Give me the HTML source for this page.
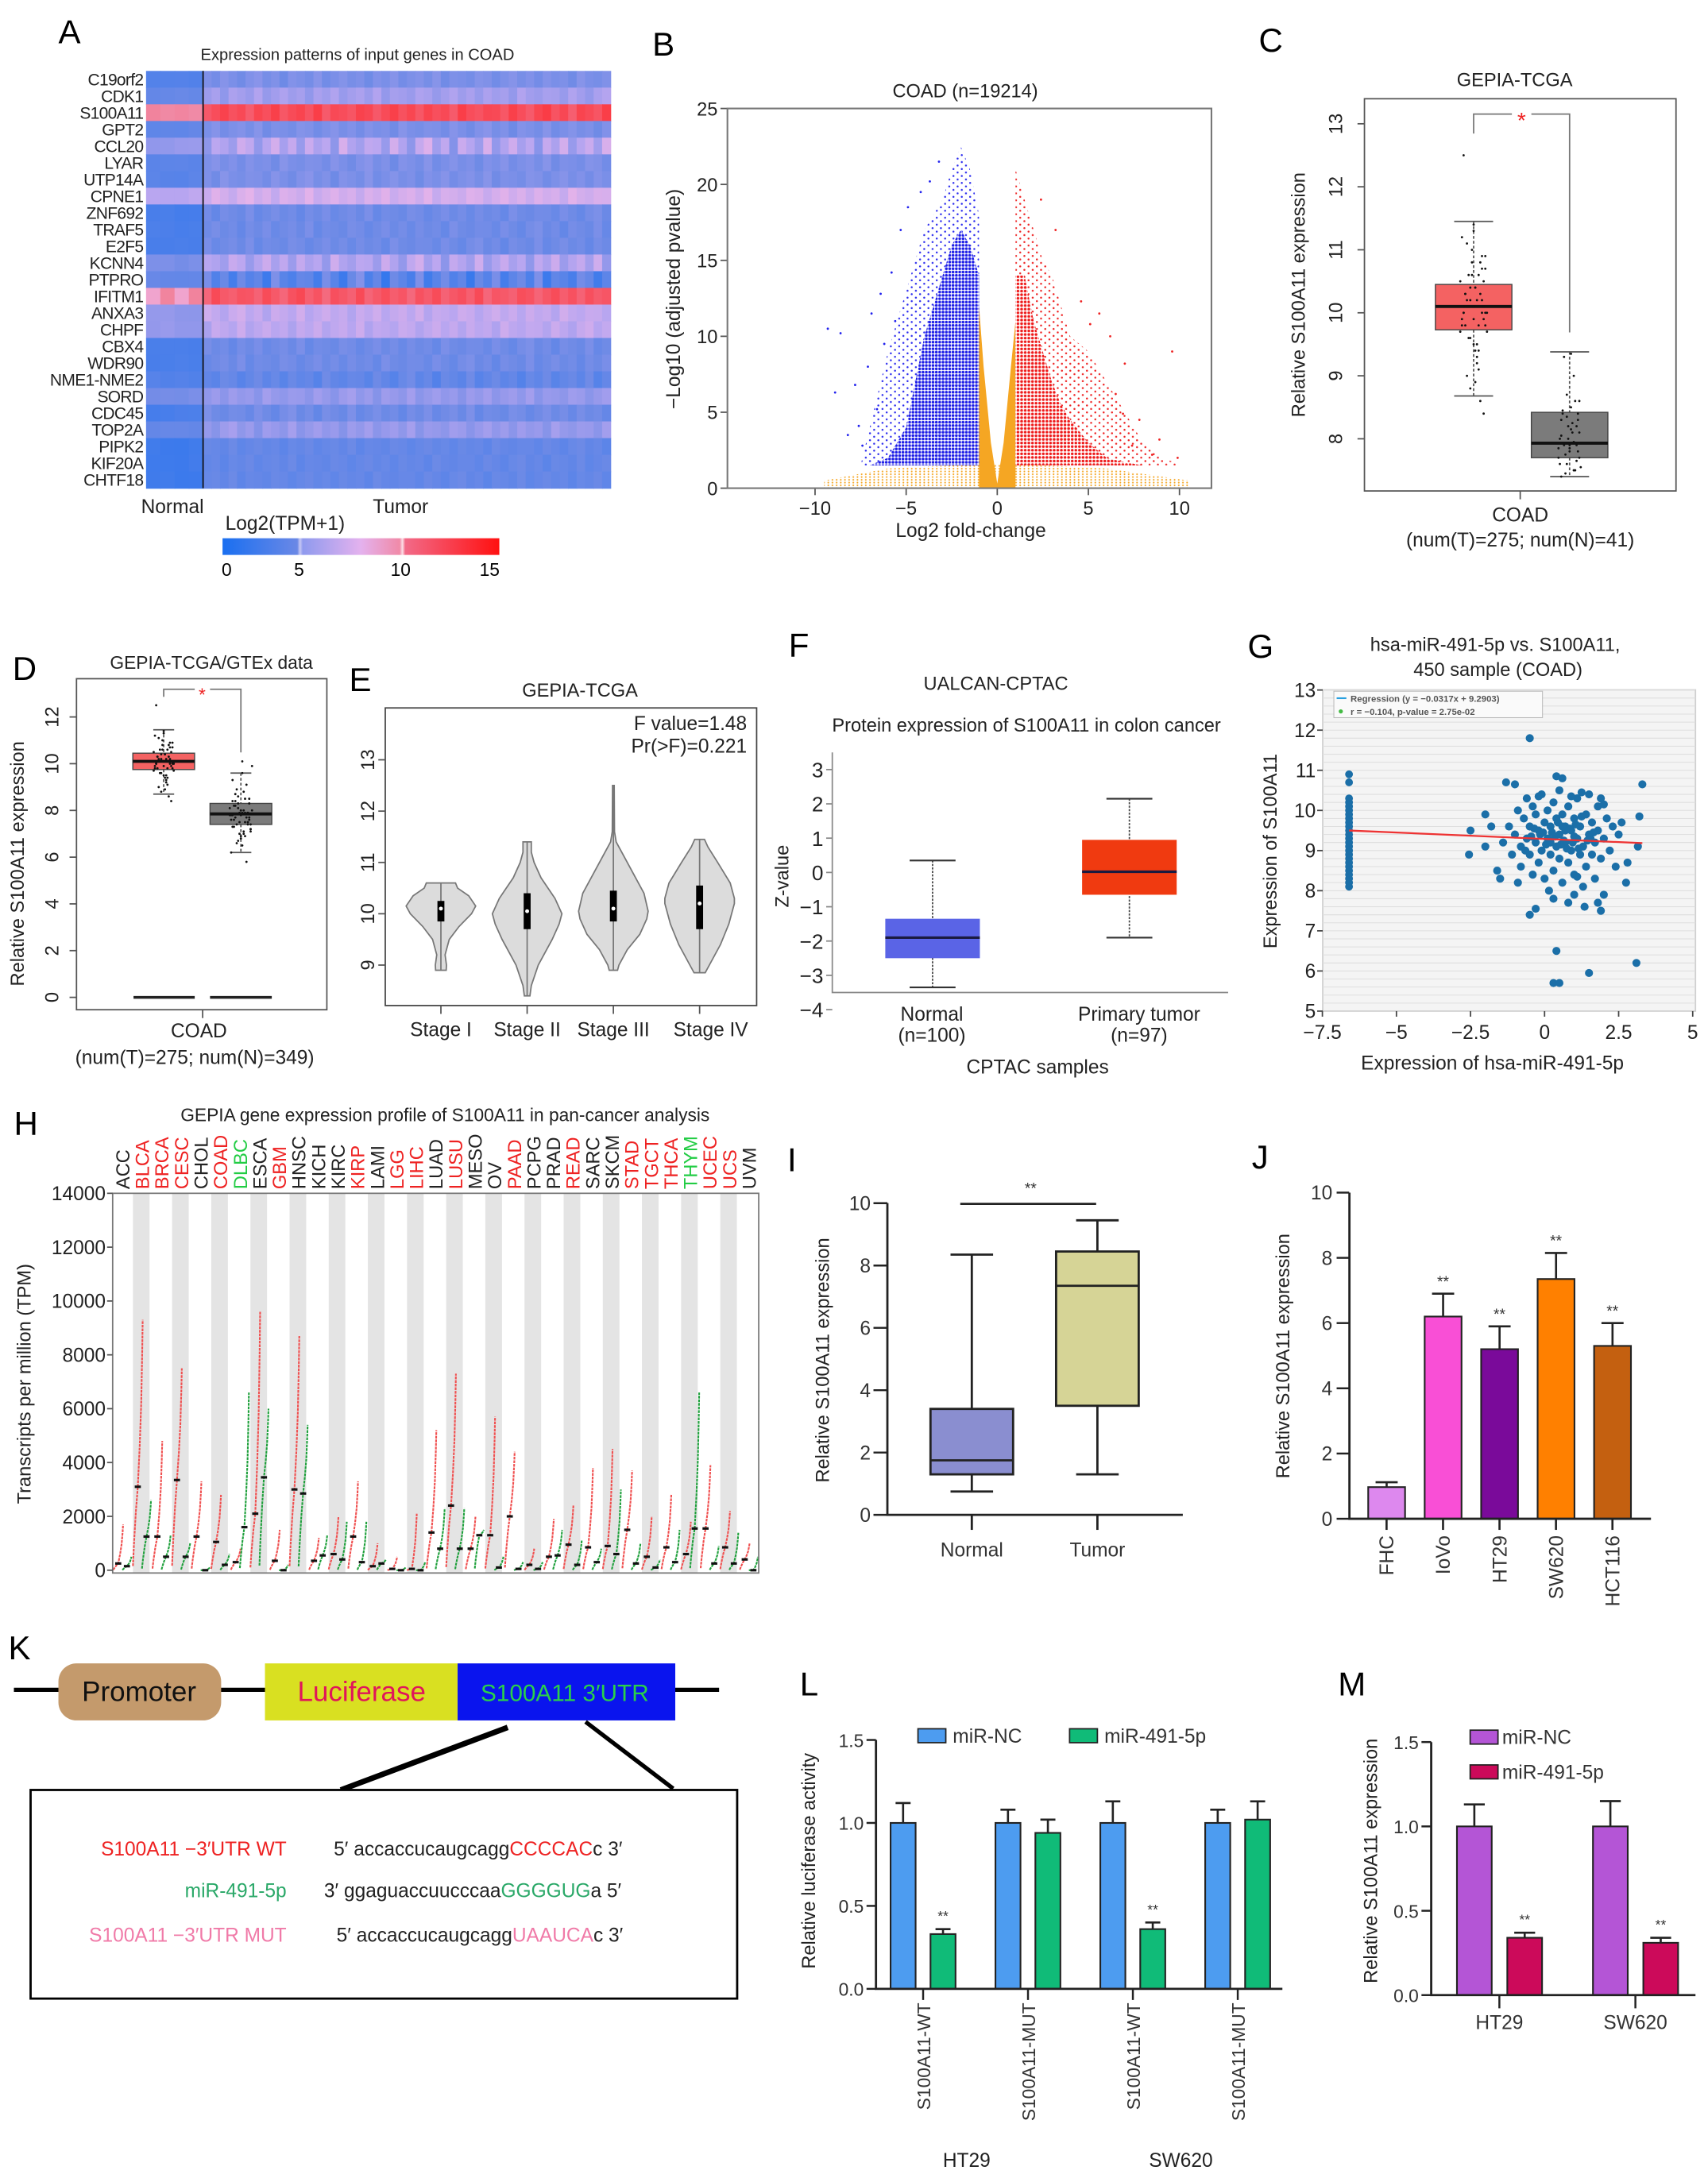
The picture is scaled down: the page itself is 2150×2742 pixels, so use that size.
<!DOCTYPE html>
<html><head><meta charset="utf-8"><title>S100A11 figure</title>
<style>
html,body{margin:0;padding:0;background:#fff;}
svg{display:block;font-family:"Liberation Sans",Arial,sans-serif;}
</style></head>
<body>
<svg id="fig" xmlns="http://www.w3.org/2000/svg" width="2150" height="2742" viewBox="0 0 1228 1566" preserveAspectRatio="none">
<defs>
<pattern id="pBlueDense" width="2.4" height="2.4" patternUnits="userSpaceOnUse"><rect width="2.4" height="2.4" fill="#ffffff"/><circle cx="1.2" cy="1.2" r="1" fill="#1e1ee6"/></pattern>
<pattern id="pBlueSparse" width="6" height="5" patternUnits="userSpaceOnUse"><circle cx="1.5" cy="1.5" r="0.7" fill="#2a2aee"/><circle cx="4.5" cy="4" r="0.7" fill="#2a2aee"/></pattern>
<pattern id="pRedDense" width="2.6" height="2.6" patternUnits="userSpaceOnUse"><rect width="2.6" height="2.6" fill="#ffffff"/><circle cx="1.3" cy="1.3" r="1" fill="#ee1a1a"/></pattern>
<pattern id="pRedSparse" width="6" height="5" patternUnits="userSpaceOnUse"><circle cx="1.5" cy="1.5" r="0.7" fill="#ee2222"/><circle cx="4.5" cy="4" r="0.7" fill="#ee2222"/></pattern>
<pattern id="pOrange" width="3" height="2" patternUnits="userSpaceOnUse"><circle cx="1.5" cy="1" r="0.6" fill="#f5a623"/></pattern>
</defs>
<rect x="0" y="0" width="1228" height="1566" fill="#fff"/>

<!-- Panel A -->
<g>
<text x="42" y="31" font-size="24">A</text>
<text x="257" y="43" font-size="11.5" text-anchor="middle" fill="#222">Expression patterns of input genes in COAD</text>
<g id="heatA"></g>
<text x="124" y="369" font-size="14" text-anchor="middle" fill="#222">Normal</text>
<text x="288" y="369" font-size="14" text-anchor="middle" fill="#222">Tumor</text>
<text x="205" y="381" font-size="14" text-anchor="middle" fill="#222">Log2(TPM+1)</text>
<defs><linearGradient id="cbg" x1="0" x2="1" y1="0" y2="0">
<stop offset="0" stop-color="#1a6ff0"/><stop offset="0.27" stop-color="#6a88e6"/><stop offset="0.28" stop-color="#c8c8f4"/><stop offset="0.29" stop-color="#8f9aee"/><stop offset="0.5" stop-color="#e4b2ee"/><stop offset="0.64" stop-color="#f08aa8"/><stop offset="0.65" stop-color="#fce0e8"/><stop offset="0.66" stop-color="#f26a88"/><stop offset="1" stop-color="#ff1010"/></linearGradient></defs>
<rect x="160" y="387" width="199" height="12" fill="url(#cbg)"/>
<text x="163" y="414" font-size="13" text-anchor="middle">0</text>
<text x="215" y="414" font-size="13" text-anchor="middle">5</text>
<text x="288" y="414" font-size="13" text-anchor="middle">10</text>
<text x="352" y="414" font-size="13" text-anchor="middle">15</text>
</g>

<!-- Panel B -->
<g>
<text x="469" y="40" font-size="24">B</text>
<text x="694" y="70" font-size="13.5" text-anchor="middle" fill="#222">COAD (n=19214)</text>
<g id="volB"></g>
<rect x="523" y="78" width="348" height="273" fill="none" stroke="#777" stroke-width="1.2"/>
<text transform="translate(489,215) rotate(-90)" font-size="14" text-anchor="middle" fill="#222">−Log10 (adjusted pvalue)</text>
<text x="698" y="386" font-size="14" text-anchor="middle" fill="#222">Log2 fold-change</text>
</g>

<!-- Panel C -->
<g>
<text x="905" y="37" font-size="24">C</text>
<text x="1089" y="62" font-size="13.5" text-anchor="middle" fill="#222">GEPIA-TCGA</text>
<rect x="981" y="71" width="224" height="282" fill="none" stroke="#555" stroke-width="1"/>
<g id="boxC"></g>
<text transform="translate(938,212) rotate(-90)" font-size="13.5" text-anchor="middle" fill="#222">Relative S100A11 expression</text>
<line x1="1093" y1="353" x2="1093" y2="359" stroke="#555"/>
<text x="1093" y="375" font-size="14" text-anchor="middle" fill="#222">COAD</text>
<text x="1093" y="393" font-size="14" text-anchor="middle" fill="#222">(num(T)=275; num(N)=41)</text>
</g>

<!-- Panel D -->
<g>
<text x="9" y="489" font-size="24">D</text>
<text x="152" y="481" font-size="13" text-anchor="middle" fill="#222">GEPIA-TCGA/GTEx data</text>
<rect x="55" y="488" width="180" height="238" fill="none" stroke="#555" stroke-width="1"/>
<g id="boxD"></g>
<text transform="translate(17,621) rotate(-90)" font-size="13.5" text-anchor="middle" fill="#222">Relative S100A11 expression</text>
<line x1="145.7" y1="726" x2="145.7" y2="732" stroke="#555"/>
<text x="143" y="746" font-size="14" text-anchor="middle" fill="#222">COAD</text>
<text x="140" y="765" font-size="14" text-anchor="middle" fill="#222">(num(T)=275; num(N)=349)</text>
</g>

<!-- Panel E -->
<g>
<text x="251" y="497" font-size="24">E</text>
<text x="417" y="501" font-size="13.5" text-anchor="middle" fill="#222">GEPIA-TCGA</text>
<rect x="277" y="509" width="267" height="214" fill="none" stroke="#444" stroke-width="1"/>
<g id="violE"></g>
<text x="537" y="525" font-size="14" text-anchor="end" fill="#222">F value=1.48</text>
<text x="537" y="541" font-size="14" text-anchor="end" fill="#222">Pr(&gt;F)=0.221</text>
</g>

<!-- Panel F -->
<g>
<text x="567" y="472" font-size="24">F</text>
<text x="716" y="496" font-size="13.5" text-anchor="middle" fill="#222">UALCAN-CPTAC</text>
<text x="738" y="526" font-size="13.5" text-anchor="middle" fill="#222">Protein expression of S100A11 in colon cancer</text>
<g id="boxF"></g>
<text transform="translate(567,630) rotate(-90)" font-size="13.5" text-anchor="middle" fill="#222">Z-value</text>
<text x="670" y="734" font-size="14" text-anchor="middle" fill="#222">Normal</text>
<text x="670" y="749" font-size="14" text-anchor="middle" fill="#222">(n=100)</text>
<text x="819" y="734" font-size="14" text-anchor="middle" fill="#222">Primary tumor</text>
<text x="819" y="749" font-size="14" text-anchor="middle" fill="#222">(n=97)</text>
<text x="746" y="772" font-size="14" text-anchor="middle" fill="#222">CPTAC samples</text>
</g>

<!-- Panel G -->
<g>
<text x="897" y="473" font-size="24">G</text>
<text x="1075" y="468" font-size="13.5" text-anchor="middle" fill="#222">hsa-miR-491-5p vs. S100A11,</text>
<text x="1077" y="486" font-size="13.5" text-anchor="middle" fill="#222">450 sample (COAD)</text>
<g id="scatG"></g>
<text transform="translate(918,612) rotate(-90)" font-size="13.5" text-anchor="middle" fill="#222">Expression of S100A11</text>
<text x="1073" y="769" font-size="14" text-anchor="middle" fill="#222">Expression of hsa-miR-491-5p</text>
</g>

<!-- Panel H -->
<g>
<text x="10" y="816" font-size="24">H</text>
<text x="320" y="806" font-size="13" text-anchor="middle" fill="#222">GEPIA gene expression profile of S100A11 in pan-cancer analysis</text>
<g id="panH"></g>
<text transform="translate(22,995) rotate(-90)" font-size="13.5" text-anchor="middle" fill="#222">Transcripts per million (TPM)</text>
</g>

<!-- Panel I -->
<g>
<text x="566" y="842" font-size="24">I</text>
<g id="boxI"></g>
<text transform="translate(596,978) rotate(-90)" font-size="13.5" text-anchor="middle" fill="#222">Relative S100A11 expression</text>
</g>

<!-- Panel J -->
<g>
<text x="900" y="840" font-size="24">J</text>
<g id="barJ"></g>
<text transform="translate(927,975) rotate(-90)" font-size="13.5" text-anchor="middle" fill="#222">Relative S100A11 expression</text>
</g>

<!-- Panel K -->
<g>
<text x="6" y="1193" font-size="24">K</text>
<line x1="10" y1="1215" x2="517" y2="1215" stroke="#000" stroke-width="3"/>
<rect x="42" y="1196" width="117" height="41" rx="13" fill="#c49a6c"/>
<text x="100" y="1223" font-size="20" text-anchor="middle" fill="#111">Promoter</text>
<rect x="190.5" y="1196" width="138.5" height="41" fill="#d9e021"/>
<text x="260" y="1223" font-size="20" text-anchor="middle" fill="#e0155a">Luciferase</text>
<rect x="329" y="1196" width="156.5" height="41" fill="#0a14ee"/>
<text x="406" y="1223" font-size="17" text-anchor="middle" fill="#2ad04a">S100A11 3′UTR</text>
<line x1="365" y1="1242" x2="245" y2="1287" stroke="#000" stroke-width="4"/>
<line x1="421" y1="1238" x2="484" y2="1286" stroke="#000" stroke-width="3"/>
<rect x="22" y="1287" width="508" height="150" fill="#fff" stroke="#000" stroke-width="1.6"/>
<text x="206" y="1334" font-size="14" text-anchor="end" fill="#ee2222">S100A11 −3′UTR  WT</text>
<text x="206" y="1364" font-size="14" text-anchor="end" fill="#2aa868">miR-491-5p</text>
<text x="206" y="1396" font-size="14" text-anchor="end" fill="#f07aa8">S100A11 −3′UTR  MUT</text>
<text x="240" y="1334" font-size="14" fill="#222">5′ accaccucaugcagg<tspan fill="#ee2222">CCCCAC</tspan>c  3′</text>
<text x="233" y="1364" font-size="14" fill="#222">3′ ggaguaccuucccaa<tspan fill="#2aa868">GGGGUG</tspan>a  5′</text>
<text x="242" y="1396" font-size="14" fill="#222">5′ accaccucaugcagg<tspan fill="#f07aa8">UAAUCA</tspan>c  3′</text>
</g>

<!-- Panel L -->
<g>
<text x="575" y="1219" font-size="24">L</text>
<g id="barL"></g>
<text transform="translate(586,1338) rotate(-90)" font-size="13.5" text-anchor="middle" fill="#222">Relative luciferase activity</text>
<text x="695" y="1558" font-size="14" text-anchor="middle" fill="#222">HT29</text>
<text x="849" y="1558" font-size="14" text-anchor="middle" fill="#222">SW620</text>
</g>

<!-- Panel M -->
<g>
<text x="962" y="1219" font-size="24">M</text>
<g id="barM"></g>
<text transform="translate(990,1338) rotate(-90)" font-size="13.5" text-anchor="middle" fill="#222">Relative S100A11 expression</text>
</g>
</svg>

<script>
// ---------- DATA ----------
const genesA = ["C19orf2","CDK1","S100A11","GPT2","CCL20","LYAR","UTP14A","CPNE1","ZNF692","TRAF5","E2F5","KCNN4","PTPRO","IFITM1","ANXA3","CHPF","CBX4","WDR90","NME1-NME2","SORD","CDC45","TOP2A","PIPK2","KIF20A","CHTF18"];
const normalA = [3,4,10,4,6,3.5,3.5,7.5,2.5,2.5,2.5,5,4,10,6,6,2.5,2.5,3,5,2.5,4,2,2,2];
const tumorA = [5,6.5,12.5,5,7,5,5,8.5,4.5,4.5,4.5,7,3.2,12,7.8,7.6,4.5,4.5,3.8,6,4.5,6,4,4,4];
const varA = [0.6,0.8,0.8,0.6,2.0,0.6,0.6,0.8,0.6,0.6,0.6,1.6,2.2,0.8,0.8,0.8,0.6,0.6,0.9,0.7,0.7,0.8,0.5,0.5,0.5];
const colOffA = [0.3,-0.4,0.8,0.1,-0.6,0.5,1.0,-0.2,0.4,-0.8,0.6,0.2,-0.3,0.9,-0.5,0.1,0.7,-0.1,0.3,-0.7,0.5,0.0,0.8,-0.4,0.2,0.6,-0.2,0.9,-0.6,0.3,0.1,-0.3,0.7,0.4,-0.5,0.2,0.8,-0.1,0.5,-0.4,0.6,0.0,0.3,-0.6,0.9,0.1,-0.2,0.4];

const blueBinX = [-7.5,-7,-6,-5,-4.5,-4,-3.5,-3,-2.5,-2,-1.5,-1];
const blueTop = [1.5,4,9,13,15,17,18,19,21,22.5,21,18];
const blueDense = [1.5,1.5,2,4,7,10,12,14,16,17,16,14];
const redBinX = [1,1.5,2,2.5,3,3.5,4,5,6,7,8,9,10];
const redTop = [21,19,17,15,14,12,10,9,7,5,3,2,1.6];
const redDense = [14,14,11,9,7,5.5,4.5,3,2,1.7,1.5,1.5,1.5];
const blueOutX = [-9.3,-8.6,-8.9,-7.6,-7.1,-6.9,-6.4,-5.8,-5.3,-4.9,-6.2,-7.4,-5.6,-8.2,-7.8,-6.6,-4.2,-3.7,-3.2];
const blueOutY = [10.5,10.2,6.3,4.1,8.0,11.5,12.8,14.2,17.0,18.5,9.5,2.8,11.0,3.5,6.8,5.2,19.5,20.2,21.5];
const redOutX = [5.6,6.2,7.0,7.8,9.6,8.5,6.5,4.6,5.1,3.2,2.4,8.9,7.4,6.9,9.9];
const redOutY = [11.5,10.0,8.2,4.5,9.0,2.2,6.2,12.3,10.8,17.0,19.0,3.2,2.8,4.9,2.0];
const ticksBX = [-10,-5,0,5,10];
const ticksBY = [0,5,10,15,20,25];

const cTumorStats = [8.68,9.73,10.1,10.45,11.45];
const cNormalStats = [7.4,7.7,7.93,8.42,9.38];
const cTumorPts = [10.1,9.8,10.4,10.9,9.5,10.2,10.0,11.2,9.2,10.6,9.9,10.3,8.9,10.8,10.1,9.7,10.5,11.4,9.4,10.0,10.2,9.6,10.7,9.0,10.4,9.8,10.1,11.0,9.3,10.3,8.6,10.6,9.9,10.0,12.5,9.1,10.2,10.9,9.7,10.4,8.4,10.1,9.5,10.8,10.0,9.8,11.3,10.3,9.6,10.5,9.9,10.2,8.8,10.7,10.0,9.4,10.6,11.1,9.8,10.1];
const cNormalPts = [7.4,7.5,7.6,7.7,7.8,7.9,7.9,8.0,8.1,8.2,8.3,8.4,8.5,8.6,7.45,7.55,7.7,7.85,7.95,8.05,8.2,8.35,8.6,9.3,9.35,7.6,7.8,8.0,8.25,8.45,7.5,7.75,7.9,8.1,8.3,9.0,8.7,7.65,7.85,8.15,8.4];
const ticksC = [8,9,10,11,12,13];
const jit = [-6,3,-2,7,0,-4,5,-7,2,-1,6,-5,1,4,-3,8,-8,0,3,-6,5,-2,7,-4,1,-7,6,-1,2,-5,4,-3,0,7,-6,3,-2,5,-8,1,6,-4,2,-1,8,-5,0,4,-3,6,-7,2,-2,5,-6,1,3,-4,7,0];

const dTumorStats = [8.7,9.75,10.1,10.45,11.45];
const dNormalStats = [6.2,7.4,7.85,8.3,9.6];
const dNormalPts = [7.8,7.5,8.1,7.2,6.8,8.4,7.9,7.6,8.8,7.0,7.7,8.2,6.5,9.1,7.4,8.0,7.8,6.9,8.5,7.3,7.9,8.6,7.1,7.7,9.6,6.2,8.3,7.5,8.0,7.6,5.8,8.9,7.8,7.2,8.4,7.9,6.7,7.4,8.1,10.1,7.6,8.2,7.0,7.9,9.9,7.3,8.0,7.7,6.6,8.5,7.8,7.1,8.3,7.5,9.3,7.9,6.9,8.7,7.4,8.0];
const ticksD = [0,2,4,6,8,10,12];

const stagesE = ["Stage I","Stage II","Stage III","Stage IV"];
const violVals = [[8.9,9.0,9.2,9.5,9.75,10.0,10.15,10.35,10.5,10.6],[8.4,8.6,9.0,9.5,9.8,10.0,10.3,10.7,11.0,11.2,11.4],[8.9,9.0,9.3,9.6,9.9,10.05,10.4,10.8,11.2,11.4,11.6,12.5],[8.85,9.0,9.4,9.8,10.2,10.3,10.6,11.0,11.3,11.45]];
const violDens = [[3.8,4,3,6,13,22,25,20,12,10.5],[2,3,8,18,23,25,20,10,5,3,3],[3,4,10,19,24,25,22,14,6,2,0.8,0.6],[4,7,15,21,25,25,22,13,6,3.5]];
const violBox = [[9.85,10.1,10.25],[9.7,10.05,10.4],[9.85,10.1,10.45],[9.7,10.2,10.55]];
const ticksE = [9,10,11,12,13];

const fGroups = ["Normal","Primary tumor"];
const fStats = [[-3.35,-2.5,-1.9,-1.35,0.35],[-1.9,-0.65,0.02,0.95,2.15]];
const ticksF = [3,2,1,0,-1,-2,-3,-4];

const gStripX = -6.6;
const gStripY = [8.1,8.2,8.3,8.4,8.5,8.6,8.7,8.8,8.9,9.0,9.1,9.2,9.3,9.4,9.5,9.6,9.7,9.8,9.9,10.0,10.1,10.2,10.3,10.7,10.9];
const gX = [-1.4,-1.2,-1.1,-1.0,-0.9,-0.8,-0.8,-0.7,-0.6,-0.6,-0.5,-0.5,-0.4,-0.4,-0.3,-0.3,-0.2,-0.2,-0.1,-0.1,0.0,0.0,0.1,0.1,0.2,0.2,0.3,0.3,0.4,0.4,0.5,0.5,0.5,0.6,0.6,0.7,0.7,0.8,0.8,0.9,0.9,1.0,1.0,1.1,1.1,1.2,1.2,1.3,1.3,1.4,1.4,1.5,1.5,1.6,1.6,1.7,1.7,1.8,1.8,1.9,2.0,2.0,2.1,2.2,2.3,2.4,2.5,2.6,-1.6,-1.8,-2.0,-0.9,0.3,0.8,1.0,1.9,1.8,0.6,0.4,-1.3,-1.0,-0.5,0.3,0.5,1.5,3.1,0.4,-0.5,-0.3,3.3,3.2,3.15,2.8,2.75,-2.55,-2.5,-2.0,-1.5,0.9,1.25,1.9,2.0,-0.2,0.15,1.35,1.1,0.75,-0.05,0.35,0.95,1.45,0.55,1.65,-0.35,0.25,0.65,1.05,-0.45,0.85,1.15,0.45,-0.15,1.55,0.05,0.7,1.25,-0.65,0.2,1.0,0.6];
const gY = [9.2,9.6,8.9,9.4,10.0,9.1,8.6,9.8,9.3,10.3,8.9,9.6,8.4,10.1,9.2,9.9,8.7,9.5,10.4,9.0,9.7,8.3,9.3,10.0,8.9,9.6,10.2,8.5,9.1,9.8,8.8,9.4,10.5,9.9,8.2,9.2,9.6,8.7,10.1,9.0,9.5,8.4,9.8,9.3,10.3,8.9,9.6,8.1,9.1,9.9,8.6,9.4,10.4,8.9,9.7,9.2,8.3,9.5,10.1,8.8,9.3,7.9,9.8,9.0,9.6,8.6,9.4,9.7,8.5,9.6,9.1,8.2,7.8,7.7,7.9,7.5,7.7,10.8,10.85,10.7,10.65,11.8,5.7,5.7,5.95,6.2,6.5,7.4,7.55,10.65,9.85,9.1,8.7,8.2,8.9,9.5,9.9,8.3,10.35,10.45,10.3,10.15,10.35,8.0,7.6,8.35,9.05,9.45,9.35,9.2,9.25,9.15,9.45,9.55,9.45,9.25,9.65,9.35,9.55,9.05,9.7,9.4,9.3,9.15,9.5,9.85,9.0,9.2,9.35,9.6];
const gSlope = -0.0317, gIntercept = 9.2903;
const ticksGX = [-7.5,-5,-2.5,0,2.5,5];
const ticksGY = [5,6,7,8,9,10,11,12,13];

const cancersH = ["ACC","BLCA","BRCA","CESC","CHOL","COAD","DLBC","ESCA","GBM","HNSC","KICH","KIRC","KIRP","LAMI","LGG","LIHC","LUAD","LUSU","MESO","OV","PAAD","PCPG","PRAD","READ","SARC","SKCM","STAD","TGCT","THCA","THYM","UCEC","UCS","UVM"];
const labelColH = ["k","r","r","r","k","r","g","k","r","k","k","k","r","k","r","r","k","r","k","k","r","k","k","r","k","k","r","r","r","g","r","r","k"];
const tMedH = [250,3100,1250,3350,1250,1050,300,2100,350,3000,350,600,1250,150,50,50,1400,2400,800,1300,2000,200,500,950,850,900,1500,500,850,600,1550,850,400];
const tMaxH = [1700,9300,4800,7500,3300,2800,800,9600,1500,8700,1200,2000,3300,1000,500,2100,5200,7300,2000,5700,4400,800,1900,2400,3800,4500,3700,2000,2800,1800,3900,2200,1000];
const nMedH = [150,1250,500,500,0,200,1600,3450,0,2850,550,400,300,250,0,0,800,800,1300,100,50,50,550,200,300,600,250,100,300,1550,250,250,0];
const nMaxH = [500,2600,1300,1000,100,600,6600,6000,200,5400,1300,1800,1800,400,100,300,2300,2300,1500,500,300,300,1500,1100,800,3000,1000,400,1500,6600,900,1400,500];
const ticksH = [0,2000,4000,6000,8000,10000,12000,14000];

const iGroups = ["Normal","Tumor"];
const iStats = [[0.75,1.3,1.75,3.4,8.35],[1.3,3.5,7.35,8.45,9.45]];
const ticksI = [0,2,4,6,8,10];

const jLines = ["FHC","IoVo","HT29","SW620","HCT116"];
const jVals = [0.97,6.2,5.2,7.35,5.3];
const jErr = [0.15,0.7,0.7,0.8,0.7];
const jSig = [false,true,true,true,true];
const ticksJ = [0,2,4,6,8,10];

const lGroups = ["S100A11-WT","S100A11-MUT","S100A11-WT","S100A11-MUT"];
const lNC = [1.0,1.0,1.0,1.0];
const lNCErr = [0.12,0.08,0.13,0.08];
const lMiR = [0.33,0.94,0.36,1.02];
const lMiRErr = [0.03,0.08,0.04,0.11];
const lSig = [true,false,true,false];
const ticksL = [0.0,0.5,1.0,1.5];

const mGroups = ["HT29","SW620"];
const mNC = [1.0,1.0];
const mNCErr = [0.13,0.15];
const mMiR = [0.34,0.31];
const mMiRErr = [0.03,0.03];
const ticksM = [0.0,0.5,1.0,1.5];

// ---------- helpers ----------
const NS = "http://www.w3.org/2000/svg";
function mk(tag, attrs, parent){ const e=document.createElementNS(NS,tag); for(const k in attrs) e.setAttribute(k,attrs[k]); parent.appendChild(e); return e; }
function txt(str, attrs, parent){ const e=mk("text",attrs,parent); e.textContent=str; return e; }
function lerp(a,b,t){return a+(b-a)*t;}
function hex(c){return [parseInt(c.slice(1,3),16),parseInt(c.slice(3,5),16),parseInt(c.slice(5,7),16)];}
const cmapStops=[[0,"#1a6ff0"],[4.5,"#6d8ae6"],[7.5,"#b9a6f0"],[9.8,"#f0b6e8"],[10,"#f08aa6"],[15,"#ff1414"]];
function cmap(v){ v=Math.max(0,Math.min(15,v)); for(let i=1;i<cmapStops.length;i++){ if(v<=cmapStops[i][0]){ const a=cmapStops[i-1],b=cmapStops[i]; const t=(v-a[0])/(b[0]-a[0]); const ca=hex(a[1]),cb=hex(b[1]); return "rgb("+Math.round(lerp(ca[0],cb[0],t))+","+Math.round(lerp(ca[1],cb[1],t))+","+Math.round(lerp(ca[2],cb[2],t))+")"; } } return cmapStops[cmapStops.length-1][1]; }

// ---------- Panel A ----------
(function(){
  const g=document.getElementById("heatA");
  const x0=105, xs=146, x1=439, y0=51, y1=351;
  const rh=(y1-y0)/genesA.length, nN=4, nT=colOffA.length;
  const nw=(xs-x0)/nN, tw=(x1-xs)/nT;
  genesA.forEach(function(gene,r){
    const y=y0+r*rh;
    for(let c=0;c<nN;c++){
      const v=normalA[r]+0.3*colOffA[(c*5+r*3)%nT];
      const cell=mk("rect",{x:x0+c*nw,y:y,width:nw+0.4,height:rh+0.4,fill:cmap(v)},g);
      
      
    }
    for(let c=0;c<nT;c++){
      const v=tumorA[r]+varA[r]*colOffA[(c+r*7)%nT];
      const cell=mk("rect",{x:xs+c*tw,y:y,width:tw+0.4,height:rh+0.4,fill:cmap(v)},g);
      
      
    }
    const lab=txt(gene,{x:103,y:y+rh/2+4.3,"font-size":12,"text-anchor":"end","letter-spacing":"-0.4",fill:"#222"},g);
    
    
  });
  const sep=mk("line",{x1:xs,y1:y0,x2:xs,y2:y1,stroke:"#111","stroke-width":1},g);
  
  
})();

// ---------- Panel B ----------
(function(){
  const g=document.getElementById("volB");
  const X=v=>717+v*13.1, Y=v=>351-v*10.92;
  const floor=mk("polygon",{points:[[X(-9.5),Y(0)],[X(-9.5),Y(0.5)],[X(-6),Y(1.3)],[X(-1),Y(1.6)],[X(1),Y(1.6)],[X(6),Y(1.3)],[X(10.5),Y(0.5)],[X(10.5),Y(0)]].map(p=>p.join(",")).join(" "),fill:"url(#pOrange)"},g);
  
  
  const vee=mk("polygon",{points:[[X(-1),Y(0)],[X(-1),Y(12)],[X(-0.75),Y(8)],[X(-0.35),Y(3)],[X(0),Y(0.3)],[X(0.35),Y(3)],[X(0.75),Y(8)],[X(1),Y(11)],[X(1),Y(0)]].map(p=>p.join(",")).join(" "),fill:"#f5a623"},g);
  
  
  function env(xs,top,fill,name){
    const pts=[]; xs.forEach((x,i)=>pts.push([X(x),Y(top[i])])); for(let i=xs.length-1;i>=0;i--) pts.push([X(xs[i]),Y(1.5)]);
    const p=mk("polygon",{points:pts.map(p=>p.join(",")).join(" "),fill:fill},g);
    
    
  }
  env(blueBinX,blueTop,"url(#pBlueSparse)","down-regulated-sparse");
  env(blueBinX,blueDense,"url(#pBlueDense)","down-regulated-dense");
  env(redBinX,redTop,"url(#pRedSparse)","up-regulated-sparse");
  env(redBinX,redDense,"url(#pRedDense)","up-regulated-dense");
  blueOutX.forEach((x,i)=>{ const d=mk("circle",{cx:X(x),cy:Y(blueOutY[i]),r:0.8,fill:"#2222ee"},g);
    
     });
  redOutX.forEach((x,i)=>{ const d=mk("circle",{cx:X(x),cy:Y(redOutY[i]),r:0.8,fill:"#ee2222"},g);
    
     });
  ticksBX.forEach(t=>{ const l=mk("line",{x1:X(t),y1:351,x2:X(t),y2:356,stroke:"#555"},g);
    
    
    const s=txt(t<0?"−"+(-t):String(t),{x:X(t),y:370,"font-size":13.5,"text-anchor":"middle",fill:"#222"},g);
    
     });
  ticksBY.forEach(t=>{ const l=mk("line",{x1:518,y1:Y(t),x2:523,y2:Y(t),stroke:"#555"},g);
    
    
    const s=txt(String(t),{x:516,y:Y(t)+5,"font-size":13.5,"text-anchor":"end",fill:"#222"},g);
    
     });
})();

function gepiaBox(g,Y,cx,half,cap,stats,fill,pts,jscale){
  const [lo,q1,md,q3,hi]=stats;
  const w1=mk("line",{x1:cx,y1:Y(hi),x2:cx,y2:Y(q3),stroke:"#555","stroke-dasharray":"2,1.5"},g);
  
  
  const w2=mk("line",{x1:cx,y1:Y(q1),x2:cx,y2:Y(lo),stroke:"#555","stroke-dasharray":"2,1.5"},g);
  
  
  [hi,lo].forEach(v=>{ const c=mk("line",{x1:cx-cap,y1:Y(v),x2:cx+cap,y2:Y(v),stroke:"#555"},g);
    
     });
  const b=mk("rect",{x:cx-half,y:Y(q3),width:2*half,height:Y(q1)-Y(q3),fill:fill,stroke:"#444","stroke-width":0.8},g);
  
  
  const m=mk("line",{x1:cx-half,y1:Y(md),x2:cx+half,y2:Y(md),stroke:"#111","stroke-width":2.2},g);
  
  
  pts.forEach((v,i)=>{ const d=mk("circle",{cx:cx+jit[i%jit.length]*jscale,cy:Y(v),r:0.8,fill:"#111"},g);
    
     });
}

// ---------- Panel C ----------
(function(){
  const g=document.getElementById("boxC");
  const Y=v=>315.5-(v-8)*45.3;
  gepiaBox(g,Y,1059.5,27.5,14,cTumorStats,"#f46262",cTumorPts,1.2);
  gepiaBox(g,Y,1128.5,27.5,14,cNormalStats,"#7b7b7b",cNormalPts,1.0);
  const br=mk("polyline",{points:[1059.5,96,1059.5,82,1128.5,82,1128.5,239].join(","),fill:"none",stroke:"#777"},g);
  
  
  const bg=mk("rect",{x:1087,y:76,width:14,height:10,fill:"#fff"},g);
  
  
  const st=txt("*",{x:1094,y:92,"font-size":16,"text-anchor":"middle",fill:"#ee2222"},g);
  
  
  ticksC.forEach(t=>{ const l=mk("line",{x1:976,y1:Y(t),x2:981,y2:Y(t),stroke:"#555"},g);
    
    
    const s=txt(String(t),{transform:"translate(965,"+Y(t)+") rotate(-90)","font-size":13.5,"text-anchor":"middle",fill:"#222"},g);
    
     });
})();

// ---------- Panel D ----------
(function(){
  const g=document.getElementById("boxD");
  const Y=v=>717.1-v*16.8;
  gepiaBox(g,Y,117.7,22.2,7.5,dTumorStats,"#f46262",cTumorPts,0.9);
  gepiaBox(g,Y,173.2,22.2,7.5,dNormalStats,"#7b7b7b",dNormalPts,1.0);
  [[96,140],[151,195.4]].forEach(p=>{ const z=mk("line",{x1:p[0],y1:Y(0),x2:p[1],y2:Y(0),stroke:"#222","stroke-width":2},g);
    
     });
  const br=mk("polyline",{points:[117.7,501,117.7,495.6,173.2,495.6,173.2,541].join(","),fill:"none",stroke:"#777"},g);
  
  
  const bg=mk("rect",{x:140,y:491,width:11,height:9,fill:"#fff"},g);
  
  
  const st=txt("*",{x:145.3,y:504,"font-size":13,"text-anchor":"middle",fill:"#ee2222"},g);
  
  
  ticksD.forEach(t=>{ const l=mk("line",{x1:50,y1:Y(t),x2:55,y2:Y(t),stroke:"#555"},g);
    
    
    const s=txt(String(t),{transform:"translate(42,"+Y(t)+") rotate(-90)","font-size":13.5,"text-anchor":"middle",fill:"#222"},g);
    
     });
})();

// ---------- Panel E ----------
(function(){
  const g=document.getElementById("violE");
  const Y=v=>657-(v-10)*36.9;
  const X=i=>317+i*62;
  stagesE.forEach((s,i)=>{
    const cx=X(i), vals=violVals[i], dens=violDens[i];
    const pts=[]; vals.forEach((v,k)=>pts.push([cx+dens[k],Y(v)])); for(let k=vals.length-1;k>=0;k--) pts.push([cx-dens[k],Y(vals[k])]);
    const p=mk("polygon",{points:pts.map(q=>q.join(",")).join(" "),fill:"#dcdcdc",stroke:"#777","stroke-width":1},g);
    
    
    const ln=mk("line",{x1:cx,y1:Y(vals[vals.length-1]),x2:cx,y2:Y(vals[0]),stroke:"#777"},g);
    
    
    const b=violBox[i];
    const bx=mk("rect",{x:cx-2.5,y:Y(b[2]),width:5,height:Y(b[0])-Y(b[2]),fill:"#000"},g);
    
    
    const md=mk("circle",{cx:cx,cy:Y(b[1]),r:1.4,fill:"#fff"},g);
    
    
    const tk=mk("line",{x1:cx,y1:723,x2:cx,y2:729,stroke:"#555"},g);
    
    
    const lb=txt(s,{x:cx+(i===3?8:0),y:745,"font-size":14,"text-anchor":"middle",fill:"#222"},g);
    
    
  });
  ticksE.forEach(t=>{ const l=mk("line",{x1:272,y1:Y(t),x2:277,y2:Y(t),stroke:"#555"},g);
    
    
    const s=txt(String(t),{transform:"translate(269,"+Y(t)+") rotate(-90)","font-size":13.5,"text-anchor":"middle",fill:"#222"},g);
    
     });
})();

// ---------- Panel F ----------
(function(){
  const g=document.getElementById("boxF");
  const Y=v=>627.3-v*24.66;
  const cxs=[670.5,812], fills=["#5a64e6","#f03a10"];
  const ax=mk("polyline",{points:[598.4,541,598.4,713.6,883,713.6].join(","),fill:"none",stroke:"#888"},g);
  
  
  ticksF.forEach(t=>{ const l=mk("line",{x1:594,y1:Y(t),x2:598.4,y2:Y(t),stroke:"#888"},g);
    
    
    const s=txt(t<0?"−"+(-t):String(t),{x:592,y:Y(t)+5.5,"font-size":15,"text-anchor":"end",fill:"#222"},g);
    
     });
  fGroups.forEach((grp,i)=>{
    const [lo,q1,md,q3,hi]=fStats[i], cx=cxs[i];
    const w=mk("line",{x1:cx,y1:Y(hi),x2:cx,y2:Y(lo),stroke:"#444","stroke-dasharray":"1.5,1"},g);
    
    
    [hi,lo].forEach(v=>{ const c=mk("line",{x1:cx-16.5,y1:Y(v),x2:cx+16.5,y2:Y(v),stroke:"#333","stroke-width":1.2},g);
      
       });
    const b=mk("rect",{x:cx-34,y:Y(q3),width:68,height:Y(q1)-Y(q3),fill:fills[i]},g);
    
    
    const m=mk("line",{x1:cx-34,y1:Y(md),x2:cx+34,y2:Y(md),stroke:"#1a1a40","stroke-width":1.8},g);
    
    
  });
})();

// ---------- Panel G ----------
(function(){
  const g=document.getElementById("scatG");
  const X=v=>1110.5+v*21.3, Y=v=>727-(v-5)*28.86;
  const bg=mk("rect",{x:951,y:496,width:268,height:231,fill:"#f4f4f4",stroke:"#cfcfcf"},g);
  
  
  for(let v=5.2;v<13;v+=0.2){ const l=mk("line",{x1:951,y1:Y(v),x2:1219,y2:Y(v),stroke:"#dedede","stroke-width":0.6},g);
    
     }
  gStripY.forEach(v=>{ const d=mk("circle",{cx:X(gStripX),cy:Y(v),r:2.8,fill:"#1b6fa8"},g);
    
     });
  gX.forEach((x,i)=>{ const d=mk("circle",{cx:X(x),cy:Y(gY[i]),r:2.9,fill:"#1b6fa8"},g);
    
     });
  const rl=mk("line",{x1:X(gStripX),y1:Y(gSlope*gStripX+gIntercept),x2:X(3.3),y2:Y(gSlope*3.3+gIntercept),stroke:"#ee3333","stroke-width":1.3},g);
  
  
  const lg=mk("rect",{x:959,y:497,width:150,height:19,fill:"#fafafa",stroke:"#bbb","stroke-width":0.6},g);
  
  
  const ll=mk("line",{x1:961,y1:502,x2:968,y2:502,stroke:"#29a0e0","stroke-width":1.2},g);
  
  
  const lt=txt("Regression (y = −0.0317x + 9.2903)",{x:971,y:504.5,"font-size":6.5,fill:"#555","font-weight":"bold"},g);
  
  
  const ld=mk("circle",{cx:964,cy:511.5,r:1.5,fill:"#44bb44"},g);
  
  
  const lt2=txt("r = −0.104, p-value = 2.75e-02",{x:971,y:514,"font-size":6.5,fill:"#555","font-weight":"bold"},g);
  
  
  ticksGX.forEach(t=>{ const l=mk("line",{x1:X(t),y1:727,x2:X(t),y2:731,stroke:"#444"},g);
    
    
    const s=txt(t<0?"−"+(-t):String(t),{x:X(t),y:747,"font-size":14,"text-anchor":"middle",fill:"#222"},g);
    
     });
  ticksGY.forEach(t=>{ const l=mk("line",{x1:947,y1:Y(t),x2:951,y2:Y(t),stroke:"#444"},g);
    
    
    const s=txt(String(t),{x:946,y:Y(t)+5,"font-size":14,"text-anchor":"end",fill:"#222"},g);
    
     });
})();

// ---------- Panel H ----------
(function(){
  const g=document.getElementById("panH");
  const x0=81, x1=545.5, cw=(x1-x0)/cancersH.length;
  const Y=v=>1129-v*(271/14000);
  const cols={k:"#222",r:"#ee2222",g:"#22cc44"};
  cancersH.forEach((c,i)=>{
    const cx=x0+i*cw;
    if(i%2===1){ const b=mk("rect",{x:cx+0.5,y:858,width:cw*0.85,height:273,fill:"#e4e4e4"},g);
      
       }
    function curve(xa,xb,med,max,color,name){
      const qs=[0,0.1,0.3,0.5,0.7,0.85,0.95,1], vs=[0.05*med,0.3*med,0.7*med,med,med+0.25*(max-med),med+0.5*(max-med),med+0.8*(max-med),max];
      const pts=qs.map((q,k)=>[xa+q*(xb-xa),Y(vs[k])].join(",")).join(" ");
      const p=mk("polyline",{points:pts,fill:"none",stroke:color,"stroke-width":1.2,"stroke-dasharray":"2,0.6"},g);
      
      
      const mm=mk("line",{x1:xa+0.5*(xb-xa)-2.2,y1:Y(med),x2:xa+0.5*(xb-xa)+2.2,y2:Y(med),stroke:"#111","stroke-width":1.8},g);
      
      
    }
    curve(cx+0.5,cx+7.5,tMedH[i],tMaxH[i],"#f05050","tumor-distribution");
    curve(cx+7,cx+13.5,nMedH[i],nMaxH[i],"#1fa03c","normal-distribution");
    const lb=txt(c,{transform:"translate("+(cx+cw/2+5)+",855) rotate(-90)","font-size":13.5,fill:cols[labelColH[i]]},g);
    
    
  });
  const fr=mk("rect",{x:x0,y:858,width:x1-x0,height:273,fill:"none",stroke:"#777"},g);
  
  
  ticksH.forEach(t=>{ const l=mk("line",{x1:x0-4,y1:Y(t),x2:x0,y2:Y(t),stroke:"#555"},g);
    
    
    const s=txt(String(t),{x:x0-5,y:Y(t)+5,"font-size":14,"text-anchor":"end",fill:"#222"},g);
    
     });
})();

// ---------- Panel I ----------
(function(){
  const g=document.getElementById("boxI");
  const Y=v=>1089.2-v*22.41;
  const cxs=[698.7,789], fills=["#8a8ed0","#d6d496"];
  const ax=mk("polyline",{points:[638,865,638,1089.2,850.4,1089.2].join(","),fill:"none",stroke:"#222","stroke-width":1.6},g);
  
  
  ticksI.forEach(t=>{ const l=mk("line",{x1:628,y1:Y(t),x2:638,y2:Y(t),stroke:"#222","stroke-width":1.4},g);
    
    
    const s=txt(String(t),{x:626,y:Y(t)+5,"font-size":14,"text-anchor":"end",fill:"#333"},g);
    
     });
  iGroups.forEach((grp,i)=>{
    const [lo,q1,md,q3,hi]=iStats[i], cx=cxs[i];
    const w=mk("line",{x1:cx,y1:Y(hi),x2:cx,y2:Y(lo),stroke:"#222","stroke-width":1.6},g);
    
    
    [hi,lo].forEach(v=>{ const c=mk("line",{x1:cx-15.3,y1:Y(v),x2:cx+15.3,y2:Y(v),stroke:"#222","stroke-width":1.6},g);
      
       });
    const b=mk("rect",{x:cx-29.7,y:Y(q3),width:59.4,height:Y(q1)-Y(q3),fill:fills[i],stroke:"#222","stroke-width":1.6},g);
    
    
    const m=mk("line",{x1:cx-29.7,y1:Y(md),x2:cx+29.7,y2:Y(md),stroke:"#222","stroke-width":1.6},g);
    
    
    const tk=mk("line",{x1:cx,y1:1089.2,x2:cx,y2:1100,stroke:"#222","stroke-width":1.6},g);
    
    
    const lb=txt(grp,{x:cx,y:1119,"font-size":14,"text-anchor":"middle",fill:"#333"},g);
    
    
  });
  const sl=mk("line",{x1:690.4,y1:865.6,x2:788.1,y2:865.6,stroke:"#222","stroke-width":1.6},g);
  
  
  const st=txt("**",{x:741,y:858,"font-size":11,"text-anchor":"middle",fill:"#333"},g);
  
  
})();

function bar(g,Y,x,w,v,e,fill,name){
  const er=mk("line",{x1:x+w/2,y1:Y(v),x2:x+w/2,y2:Y(v+e),stroke:"#222","stroke-width":1.5},g);
  
  
  const ec=mk("line",{x1:x+w/2-w*0.3,y1:Y(v+e),x2:x+w/2+w*0.3,y2:Y(v+e),stroke:"#222","stroke-width":1.5},g);
  
  
  const r=mk("rect",{x:x,y:Y(v),width:w,height:Y(0)-Y(v),fill:fill,stroke:"#222","stroke-width":1.2},g);
  
  
}

// ---------- Panel J ----------
(function(){
  const g=document.getElementById("barJ");
  const Y=v=>1092-v*23.45;
  const cols=["#dd88ee","#f94fd6","#7a0a9a","#ff8000","#c46010"];
  jLines.forEach((c,i)=>{
    const x=983.7+i*40.6;
    bar(g,Y,x,26.5,jVals[i],jErr[i],cols[i],"bar-"+c.toLowerCase());
    if(jSig[i]){ const s=txt("**",{x:x+13.2,y:Y(jVals[i]+jErr[i])-5,"font-size":11,"text-anchor":"middle",fill:"#333"},g);
      
       }
    const tk=mk("line",{x1:x+13.2,y1:1092,x2:x+13.2,y2:1100,stroke:"#222","stroke-width":1.5},g);
    
    
    const lb=txt(c,{transform:"translate("+(x+13.2+5)+",1104) rotate(-90)","font-size":14,"text-anchor":"end",fill:"#333"},g);
    
    
  });
  const ax=mk("polyline",{points:[970.2,857.5,970.2,1092,1187,1092].join(","),fill:"none",stroke:"#222","stroke-width":1.6},g);
  
  
  ticksJ.forEach(t=>{ const l=mk("line",{x1:961,y1:Y(t),x2:970,y2:Y(t),stroke:"#222","stroke-width":1.4},g);
    
    
    const s=txt(String(t),{x:958,y:Y(t)+5,"font-size":14,"text-anchor":"end",fill:"#333"},g);
    
     });
})();

// ---------- Panel L ----------
(function(){
  const g=document.getElementById("barL");
  const Y=v=>1430-v*119.3;
  lGroups.forEach((c,i)=>{
    const x=640.3+i*75.4;
    bar(g,Y,x,18,lNC[i],lNCErr[i],"#4d9cf0","bar-mir-nc");
    bar(g,Y,x+28.7,18,lMiR[i],lMiRErr[i],"#10bb78","bar-mir-491");
    if(lSig[i]){ const s=txt("**",{x:x+37.7,y:Y(lMiR[i]+lMiRErr[i])-6,"font-size":10,"text-anchor":"middle",fill:"#333"},g);
      
       }
    const tk=mk("line",{x1:x+23.4,y1:1430,x2:x+23.4,y2:1438,stroke:"#222","stroke-width":1.4},g);
    
    
    const lb=txt(c,{transform:"translate("+(x+23.4+5)+",1440) rotate(-90)","font-size":13,"text-anchor":"end",fill:"#333"},g);
    
    
  });
  const ax=mk("polyline",{points:[629.8,1251,629.8,1430,922,1430].join(","),fill:"none",stroke:"#222","stroke-width":1.6},g);
  
  
  ticksL.forEach(t=>{ const l=mk("line",{x1:623,y1:Y(t),x2:629.8,y2:Y(t),stroke:"#222","stroke-width":1.4},g);
    
    
    const s=txt(t.toFixed(1),{x:621,y:Y(t)+5,"font-size":13,"text-anchor":"end",fill:"#333"},g);
    
     });
  const k1=mk("rect",{x:660,y:1243,width:20,height:10,fill:"#4d9cf0",stroke:"#222"},g);
  
  
  const t1=txt("miR-NC",{x:685,y:1253,"font-size":14,fill:"#333"},g);
  
  
  const k2=mk("rect",{x:769,y:1243,width:20,height:10,fill:"#10bb78",stroke:"#222"},g);
  
  
  const t2=txt("miR-491-5p",{x:794,y:1253,"font-size":14,fill:"#333"},g);
  
  
})();

// ---------- Panel M ----------
(function(){
  const g=document.getElementById("barM");
  const Y=v=>1434.5-v*121.3;
  mGroups.forEach((c,i)=>{
    const x=1047.5+i*97.8;
    bar(g,Y,x,25,mNC[i],mNCErr[i],"#b455d6","bar-mir-nc");
    bar(g,Y,x+36.2,25,mMiR[i],mMiRErr[i],"#cc0a5a","bar-mir-491");
    const s=txt("**",{x:x+48.7,y:Y(mMiR[i]+mMiRErr[i])-6,"font-size":10,"text-anchor":"middle",fill:"#333"},g);
    
    
    const tk=mk("line",{x1:x+30.5,y1:1434.5,x2:x+30.5,y2:1444,stroke:"#222","stroke-width":1.4},g);
    
    
    const lb=txt(c,{x:x+30.5,y:1459,"font-size":14,"text-anchor":"middle",fill:"#333"},g);
    
    
  });
  const ax=mk("polyline",{points:[1029,1252.6,1029,1434.5,1219,1434.5].join(","),fill:"none",stroke:"#222","stroke-width":1.6},g);
  
  
  ticksM.forEach(t=>{ const l=mk("line",{x1:1022,y1:Y(t),x2:1029,y2:Y(t),stroke:"#222","stroke-width":1.4},g);
    
    
    const s=txt(t.toFixed(1),{x:1020,y:Y(t)+5,"font-size":13,"text-anchor":"end",fill:"#333"},g);
    
     });
  const k1=mk("rect",{x:1057,y:1244,width:20,height:10,fill:"#b455d6",stroke:"#222"},g);
  
  
  const t1=txt("miR-NC",{x:1080,y:1254,"font-size":14,fill:"#333"},g);
  
  
  const k2=mk("rect",{x:1057,y:1269,width:20,height:10,fill:"#cc0a5a",stroke:"#222"},g);
  
  
  const t2=txt("miR-491-5p",{x:1080,y:1279,"font-size":14,fill:"#333"},g);
  
  
})();
</script>
</body></html>
